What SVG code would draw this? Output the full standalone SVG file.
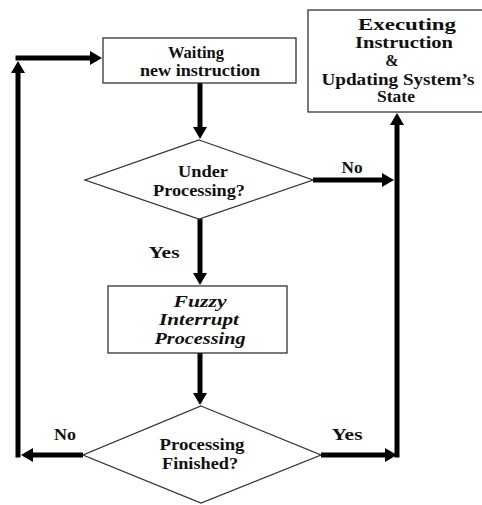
<svg xmlns="http://www.w3.org/2000/svg" width="482" height="505" viewBox="0 0 482 505">
<style>
.box{fill:#fff;stroke:#333;stroke-width:1.3}
.t{font-family:"Liberation Serif","Times New Roman",serif;font-weight:bold;font-size:16px;fill:#111;text-anchor:middle}
.i{font-style:italic}
.c{stroke:#000;stroke-width:5;fill:none}
</style>
<defs>
<marker id="ah" viewBox="0 0 12 14" refX="1" refY="7" markerWidth="12" markerHeight="14" markerUnits="userSpaceOnUse" orient="auto">
<path d="M0,0 L12,7 L0,14 z" fill="#000"/>
</marker>
</defs>
<rect width="482" height="505" fill="#fff"/>
<g id="connectors">
<line class="c" x1="200" y1="83" x2="200" y2="128" marker-end="url(#ah)"/>
<line class="c" x1="313" y1="180" x2="383" y2="180" marker-end="url(#ah)"/>
<line class="c" x1="397" y1="457.5" x2="397" y2="124" marker-end="url(#ah)"/>
<line class="c" x1="321" y1="455" x2="386" y2="455" marker-end="url(#ah)"/>
<line class="c" x1="200" y1="219" x2="200" y2="274" marker-end="url(#ah)"/>
<line class="c" x1="200" y1="353" x2="200" y2="394" marker-end="url(#ah)"/>
<line class="c" x1="83" y1="455" x2="32" y2="455" marker-end="url(#ah)"/>
<line class="c" x1="18" y1="457.5" x2="18" y2="72" marker-end="url(#ah)"/>
<line class="c" x1="15.5" y1="58" x2="91" y2="58" marker-end="url(#ah)"/>
<text class="t" x="352" y="173" textLength="21" lengthAdjust="spacingAndGlyphs">No</text>
<text class="t" x="164" y="258" textLength="31" lengthAdjust="spacingAndGlyphs">Yes</text>
<text class="t" x="65" y="440" textLength="22" lengthAdjust="spacingAndGlyphs">No</text>
<text class="t" x="347" y="440" textLength="31" lengthAdjust="spacingAndGlyphs">Yes</text>
</g>
<g id="waiting">
<rect class="box" x="103" y="38" width="193" height="45"/>
<text class="t" x="196" y="58" textLength="56" lengthAdjust="spacingAndGlyphs">Waiting</text>
<text class="t" x="200" y="76" textLength="120" lengthAdjust="spacingAndGlyphs">new instruction</text>
</g>
<g id="executing">
<rect class="box" x="308" y="10" width="190" height="102"/>
<text class="t" x="407" y="30" textLength="98" lengthAdjust="spacingAndGlyphs">Executing</text>
<text class="t" x="404" y="48" textLength="98" lengthAdjust="spacingAndGlyphs">Instruction</text>
<text class="t" x="392" y="66">&amp;</text>
<text class="t" x="398" y="85" textLength="153" lengthAdjust="spacingAndGlyphs">Updating System’s</text>
<text class="t" x="396" y="102" textLength="38" lengthAdjust="spacingAndGlyphs">State</text>
</g>
<g id="under">
<polygon class="box" points="199,140 313,180 199,219 85,180"/>
<text class="t" x="203" y="177" textLength="50" lengthAdjust="spacingAndGlyphs">Under</text>
<text class="t" x="199" y="196" textLength="92" lengthAdjust="spacingAndGlyphs">Processing?</text>
</g>
<g id="fuzzy">
<rect class="box" x="108" y="286" width="179" height="67"/>
<text class="t i" x="200" y="307" textLength="53" lengthAdjust="spacingAndGlyphs">Fuzzy</text>
<text class="t i" x="199" y="325" textLength="80" lengthAdjust="spacingAndGlyphs">Interrupt</text>
<text class="t i" x="200" y="344" textLength="91" lengthAdjust="spacingAndGlyphs">Processing</text>
</g>
<g id="finished">
<polygon class="box" points="201,406 321,455 201,503 83,455"/>
<text class="t" x="202" y="450" textLength="85" lengthAdjust="spacingAndGlyphs">Processing</text>
<text class="t" x="200" y="469" textLength="76" lengthAdjust="spacingAndGlyphs">Finished?</text>
</g>
</svg>
